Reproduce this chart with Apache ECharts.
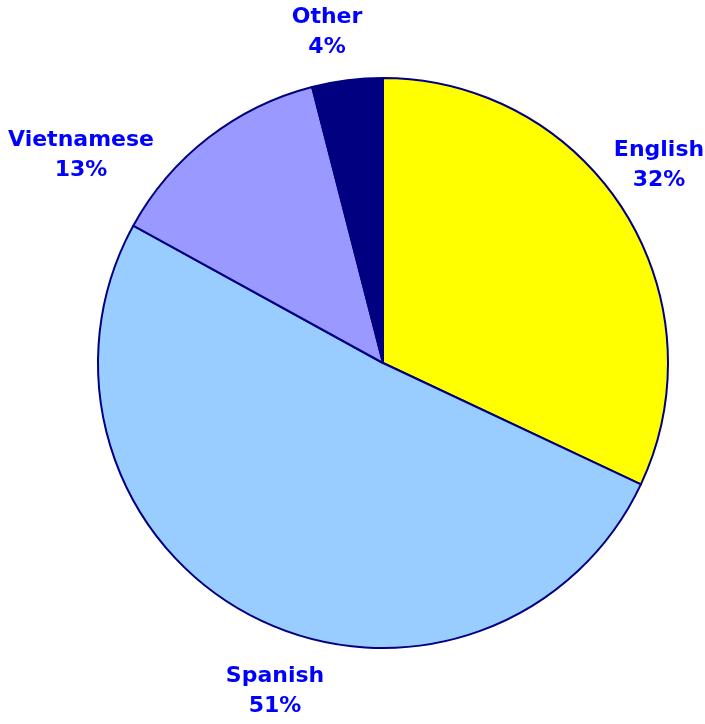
<!DOCTYPE html>
<html>
<head>
<meta charset="utf-8">
<script src="https://cdn.jsdelivr.net/npm/echarts@6/dist/echarts.min.js"></script>
<style>
  html, body { margin: 0; padding: 0; background: #fff; }
  #chart { width: 705px; height: 724px; }
</style>
</head>
<body>
<div id="chart"></div>
<script>
// slice names and shares (percent), clockwise from 12 o'clock
var languages = ['English', 'Spanish', 'Vietnamese', 'Other'];
var shares = [32, 51, 13, 4];
var sliceColors = ['#FFFF00', '#99CCFF', '#9999FF', '#000080'];

// where each label block sits (centre of the two text lines)
var LABEL_POS = [
    [659, 165],
    [275, 691],
    [81, 155],
    [327, 32]
];

var dom = document.getElementById('chart');
var myChart = echarts.init(dom, null, {renderer: 'canvas'});

var pieData = [];
for (var i = 0; i < languages.length; i++) {
    pieData.push({
        name: languages[i],
        value: shares[i],
        itemStyle: {color: sliceColors[i]}
    });
}

var option = {
    animation: false,
    backgroundColor: '#ffffff',
    series: [
        {
            type: 'pie',
            center: [383, 363],
            radius: 285,
            startAngle: 90,
            clockwise: true,
            avoidLabelOverlap: false,
            itemStyle: {
                borderColor: '#000080',
                borderWidth: 2
            },
            label: {
                show: true,
                position: 'outside',
                formatter: '{b}\n{c}%',
                color: '#0000FF',
                fontFamily: 'DejaVu Sans',
                fontWeight: 'bold',
                fontSize: 22,
                lineHeight: 30,
                align: 'center'
            },
            labelLine: {show: false},
            labelLayout: function (params) {
                var p = LABEL_POS[params.dataIndex];
                return {
                    x: p[0],
                    y: p[1],
                    align: 'center',
                    verticalAlign: 'middle'
                };
            },
            emphasis: {disabled: true},
            data: pieData
        }
    ]
};

myChart.setOption(option, true);
</script>
</body>
</html>
